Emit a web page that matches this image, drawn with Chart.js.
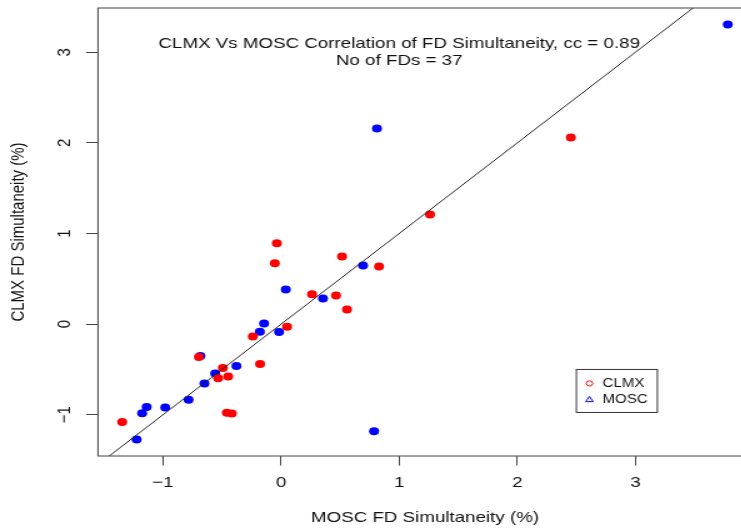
<!DOCTYPE html>
<html>
<head>
<meta charset="utf-8">
<script src="https://cdn.jsdelivr.net/npm/chart.js@4/dist/chart.umd.min.js"></script>
<style>
  html, body { margin: 0; padding: 0; background: #ffffff; overflow: hidden; }
  #wrap { width: 741px; height: 529px; overflow: hidden; position: relative; }
  /* the plot is rendered narrow and widened horizontally */
  #c { display: block; transform: scaleX(1.25); transform-origin: 0 0; }
</style>
</head>
<body>
<div id="wrap"><canvas id="c" width="608" height="529"></canvas></div>
<script>
// FD simultaneity (%) per FD: x = MOSC, y = CLMX
const clmxX = [-1.345, 2.453, 1.261, -0.036, -0.053, 0.516, 0.829, 0.262, 0.465, 0.558,
               0.051, -0.696, -0.239, -0.493, -0.533, -0.448, -0.178, -0.459, -0.417];
const clmxY = [-1.081, 2.059, 1.210, 0.893, 0.673, 0.747, 0.636, 0.331, 0.317, 0.162,
               -0.029, -0.364, -0.136, -0.485, -0.596, -0.577, -0.441, -0.977, -0.985];
const moscX = [3.782, 0.812, 0.694, 0.040, 0.355, -0.144, -0.180, -0.017, -0.683,
               -0.378, -0.558, -0.649, -0.783, -0.981, -1.138, -1.176, -1.223, 0.787];
const moscY = [3.305, 2.158, 0.647, 0.383, 0.283, 0.008, -0.084, -0.088, -0.353,
               -0.463, -0.544, -0.654, -0.834, -0.919, -0.915, -0.982, -1.272, -1.183];

const xTicks = [-1, 0, 1, 2, 3];
const yTicks = [-1, 0, 1, 2, 3];
const xLimits = [-1.55, 3.987];
const yLimits = [-1.455, 3.488];

// reference line y = intercept + slope * x
const refLine = { intercept: 0, slope: 1 };

const titleLines = ['CLMX Vs MOSC Correlation of FD Simultaneity, cc = 0.89', 'No of FDs = 37'];
const titleAnchor = [1, 3];
const legendNames = ['CLMX', 'MOSC'];
const legendAnchor = [2.5, -0.5];

const FONT = '"Liberation Sans", Arial, Helvetica, sans-serif';
const INK = '#111111';
const FRAME = '#444444';

const toPoints = (xs, ys) => xs.map((v, i) => ({ x: v, y: ys[i] }));
const fmt = v => (v < 0 ? '\u2212' + Math.abs(v) : String(v));

const lineData = [xLimits[0] - 1, xLimits[1] + 1].map(v => ({ x: v, y: refLine.intercept + refLine.slope * v }));

const noPad = s => { s.paddingTop = 0; s.paddingBottom = 0; s.paddingLeft = 0; s.paddingRight = 0; };

const framePlugin = {
  id: 'frame',
  afterDraw(chart) {
    const { ctx, chartArea: a, scales: { x, y } } = chart;
    ctx.save();
    // plot box
    ctx.strokeStyle = FRAME;
    ctx.lineWidth = 1;
    ctx.strokeRect(a.left, a.top, a.right - a.left, a.bottom - a.top);

    // annotation text
    ctx.fillStyle = INK;
    ctx.font = '15px ' + FONT;
    ctx.textAlign = 'center';
    ctx.textBaseline = 'middle';
    const tx = x.getPixelForValue(titleAnchor[0]);
    const ty = y.getPixelForValue(titleAnchor[1]);
    ctx.fillText(titleLines[0], tx, ty - 8.7);
    ctx.fillText(titleLines[1], tx, ty + 8.7);

    // legend
    const lx = x.getPixelForValue(legendAnchor[0]);
    const ly = y.getPixelForValue(legendAnchor[1]);
    ctx.strokeStyle = '#333333';
    ctx.strokeRect(lx, ly, 64.8, 43);
    const r1 = ly + 14, r2 = ly + 30, sx = lx + 10.5;
    ctx.lineWidth = 1;
    ctx.strokeStyle = '#ff0000';
    ctx.beginPath();
    ctx.arc(sx, r1, 2.6, 0, Math.PI * 2);
    ctx.stroke();
    ctx.strokeStyle = '#0000ff';
    ctx.beginPath();
    ctx.moveTo(sx, r2 - 3);
    ctx.lineTo(sx + 3, r2 + 2.2);
    ctx.lineTo(sx - 3, r2 + 2.2);
    ctx.closePath();
    ctx.stroke();
    ctx.fillStyle = INK;
    ctx.font = '12px ' + FONT;
    ctx.textAlign = 'left';
    ctx.fillText(legendNames[0], lx + 21, r1);
    ctx.fillText(legendNames[1], lx + 21, r2);
    ctx.restore();
  }
};

new Chart(document.getElementById('c'), {
  type: 'scatter',
  data: {
    datasets: [
      { type: 'line', label: 'y = x', data: lineData, borderColor: '#222222', borderWidth: 1,
        pointRadius: 0, fill: false, order: 0 },
      { label: legendNames[0], data: toPoints(clmxX, clmxY), backgroundColor: '#ff0000',
        borderWidth: 0, pointRadius: 4, pointHoverRadius: 4, order: 1 },
      { label: legendNames[1], data: toPoints(moscX, moscY), backgroundColor: '#0000ff',
        borderWidth: 0, pointRadius: 4, pointHoverRadius: 4, order: 2 }
    ]
  },
  options: {
    responsive: false,
    animation: false,
    events: [],
    layout: { padding: { top: 8, right: 6.4, bottom: 0, left: 0 } },
    plugins: { legend: { display: false }, tooltip: { enabled: false } },
    scales: {
      x: {
        type: 'linear', min: xLimits[0], max: xLimits[1],
        afterBuildTicks: s => { s.ticks = xTicks.map(v => ({ value: v })); },
        afterFit: s => { s.height = 73; noPad(s); },
        grid: { drawOnChartArea: false, drawTicks: true, tickLength: 9.5, color: FRAME, lineWidth: 1 },
        border: { display: false },
        ticks: { includeBounds: false, font: { family: FONT, size: 15 }, color: INK, padding: 8, callback: fmt, maxRotation: 0 },
        title: { display: true, text: 'MOSC FD Simultaneity (%)', font: { family: FONT, size: 15 }, color: INK,
                 padding: { top: 0, bottom: 2 } }
      },
      y: {
        type: 'linear', min: yLimits[0], max: yLimits[1],
        afterBuildTicks: s => { s.ticks = yTicks.map(v => ({ value: v })); },
        afterFit: s => { s.width = 78.4; noPad(s); },
        grid: { drawOnChartArea: false, drawTicks: true, tickLength: 9.5, color: FRAME, lineWidth: 1 },
        border: { display: false },
        ticks: { includeBounds: false, font: { family: FONT, size: 15 }, color: INK, padding: 8.3,
                 minRotation: 90, maxRotation: 90, crossAlign: 'center', callback: fmt },
        title: { display: true, text: 'CLMX FD Simultaneity (%)', font: { family: FONT, size: 15 }, color: INK,
                 padding: { top: 5.4, bottom: 0 } }
      }
    }
  },
  plugins: [framePlugin]
});
</script>
</body>
</html>
